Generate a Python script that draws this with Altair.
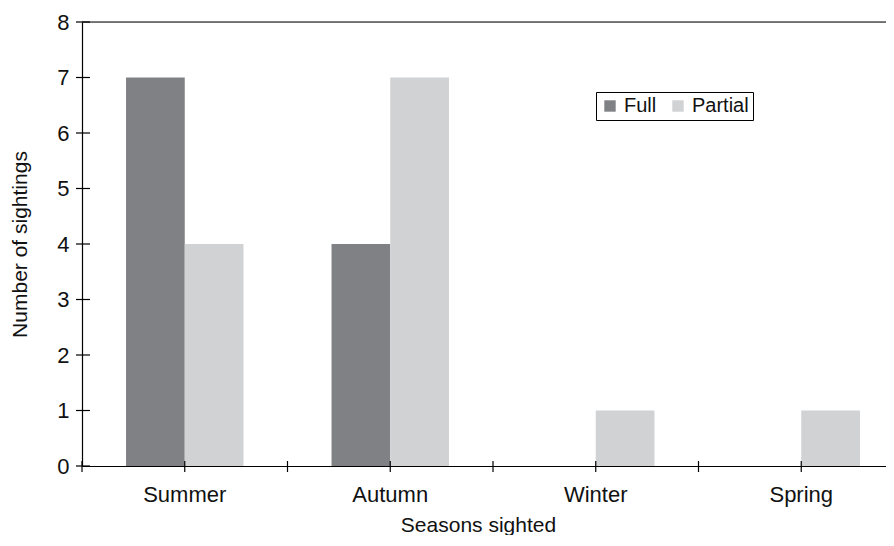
import altair as alt
import pandas as pd

seasons = ["Summer", "Autumn", "Winter", "Spring"]
types = ["Full", "Partial"]
full_counts = [7, 4, 0, 0]
partial_counts = [4, 7, 1, 1]
y_ticks = [0, 1, 2, 3, 4, 5, 6, 7, 8]
colors = ["#7f8184", "#d0d2d3"]

rows = []
for s, f, p in zip(seasons, full_counts, partial_counts):
    rows.append({"Season": s, "Type": "Full", "Count": f})
    rows.append({"Season": s, "Type": "Partial", "Count": p})
df = pd.DataFrame(rows)
season_df = pd.DataFrame({"Season": seasons})
ytick_df = pd.DataFrame({"v": y_ticks})
top_df = pd.DataFrame({"v": [max(y_ticks)]})

W = 804
H = 444
XR = 822
FONT = "Liberation Sans"

xscale = alt.Scale(domain=seasons, range=[0, XR], paddingInner=0, paddingOuter=0)
yscale = alt.Scale(domain=[0, 8], nice=False)

bars = alt.Chart(df).mark_bar().encode(
    x=alt.X("Season:N", sort=seasons, scale=xscale,
            axis=alt.Axis(title="Seasons sighted", ticks=False, labelAngle=0,
                          labelFontSize=22, labelPadding=18, labelColor="#111",
                          titleFontSize=21, titleFontWeight="normal", titleColor="#111",
                          titleX=396, titleY=65, titleBaseline="alphabetic",
                          titleAlign="center", domainColor="#000", domainWidth=1.2)),
    xOffset=alt.XOffset("Type:N", sort=types,
                        scale=alt.Scale(domain=types, paddingInner=0, paddingOuter=0.75)),
    y=alt.Y("Count:Q", scale=yscale,
            axis=alt.Axis(title="Number of sightings", values=y_ticks, format="d",
                          ticks=False, grid=False, labelFontSize=22, labelPadding=13,
                          labelColor="#111",
                          titleFontSize=21, titleFontWeight="normal", titleColor="#111",
                          titleAngle=270, titleX=-56, titleY=H / 2, titleAlign="center",
                          titleBaseline="alphabetic", domainColor="#000", domainWidth=1.2)),
    color=alt.Color("Type:N", scale=alt.Scale(domain=types, range=colors),
                    legend=alt.Legend(title=None, orient="none", legendX=514, legendY=70,
                                      direction="horizontal", symbolType="square",
                                      symbolSize=130, symbolStrokeWidth=0,
                                      labelFontSize=20, labelColor="#111", labelOffset=4,
                                      columnPadding=11, padding=4,
                                      strokeColor="#000", fillColor="#fff")),
)

xticks_edge = alt.Chart(season_df).mark_rule(color="#000", strokeWidth=1.2).encode(
    x=alt.X("Season:N", sort=seasons, bandPosition=0),
    y=alt.value(H - 5), y2=alt.value(H + 6),
)
xticks_mid = alt.Chart(season_df).mark_rule(color="#000", strokeWidth=1.2).encode(
    x=alt.X("Season:N", sort=seasons, bandPosition=0.5),
    y=alt.value(H - 5), y2=alt.value(H + 6),
)
yticks = alt.Chart(ytick_df).mark_rule(color="#000", strokeWidth=1.2).encode(
    y=alt.Y("v:Q"),
    x=alt.value(-6), x2=alt.value(8),
)
top_line = alt.Chart(top_df).mark_rule(color="#000", strokeWidth=1.2).encode(
    y=alt.Y("v:Q"),
    x=alt.value(0), x2=alt.value(XR),
)

chart = alt.layer(bars, xticks_edge, xticks_mid, yticks, top_line).properties(
    width=W, height=H,
    autosize=alt.AutoSizeParams(type="none"),
    padding={"left": 74, "top": 14, "right": 0, "bottom": 69},
    background="#ffffff",
).configure_view(stroke=None).configure(font=FONT)

chart.save("out.html", embed_options={"renderer": "svg", "actions": False})
